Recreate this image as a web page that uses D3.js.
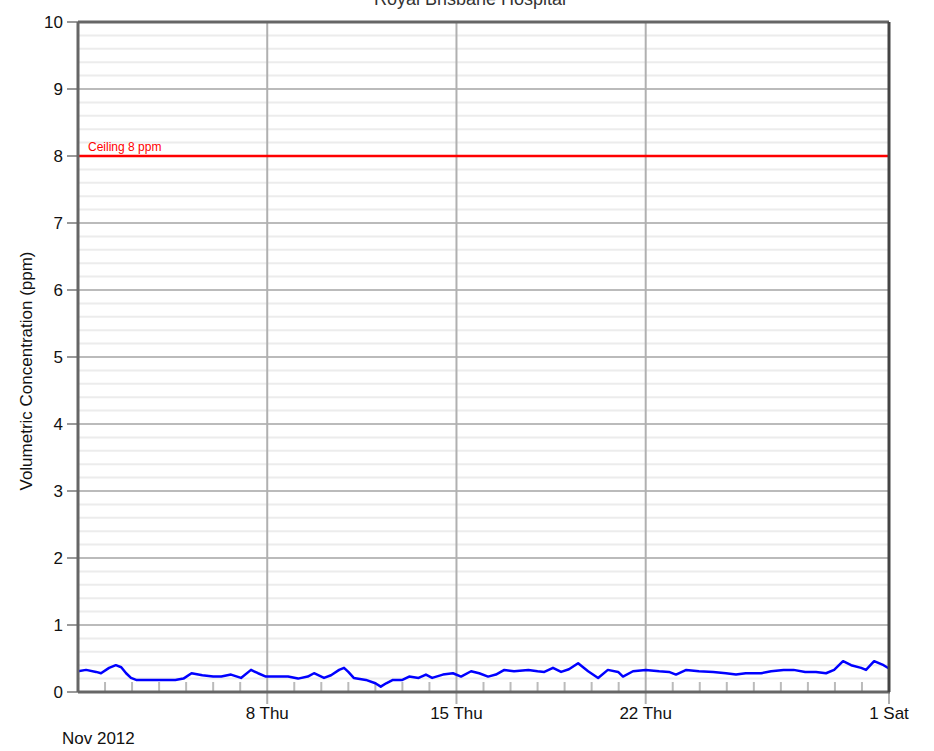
<!DOCTYPE html>
<html>
<head>
<meta charset="utf-8">
<script src="https://cdn.jsdelivr.net/npm/d3@7"></script>
<style>
    body { margin: 0; background: white; }
    text { font-family: "Liberation Sans", Arial, sans-serif; }
</style>
</head>
<body>
<script>
const title = "Royal Brisbane Hospital"
const yLabel = "Volumetric Concentration (ppm)"
const limitLabel = "Ceiling 8 ppm"
const limitValue = 8
const periodLabel = "Nov 2012"
const startDate = new Date(2012, 10, 1)
const endDate = new Date(2012, 11, 1)

// major x ticks (gridlines + labels)
const majorTickDates = ["2012-11-08", "2012-11-15", "2012-11-22", "2012-12-01"]
const majorTickLabels = ["8 Thu", "15 Thu", "22 Thu", "1 Sat"]
const yTicks = [0, 1, 2, 3, 4, 5, 6, 7, 8, 9, 10]

// sample time in days since 1 Nov, and measured ppm
const sampleDays = [0, 0.3, 0.67, 0.85, 1.15, 1.4, 1.6, 1.78, 1.96, 2.15, 2.6, 3.1, 3.6, 3.9, 4.2, 4.6,
    5.0, 5.3, 5.66, 6.03, 6.4, 6.66, 6.95, 7.4, 7.77, 8.14, 8.5, 8.73, 9.1, 9.36, 9.66, 9.84,
    10.0, 10.2, 10.65, 11.0, 11.2, 11.4, 11.65, 12.0, 12.25, 12.6, 12.87, 13.1, 13.5, 13.87, 14.17, 14.54, 14.84,
    15.17, 15.46, 15.77, 16.13, 16.66, 17.0, 17.25, 17.57, 17.87, 18.16, 18.5, 18.87, 19.24, 19.6, 19.98,
    20.16, 20.53, 21.0, 21.5, 21.86, 22.12, 22.5, 22.97, 23.5, 23.97, 24.34, 24.7,
    25.27, 25.64, 26.1, 26.47, 26.9, 27.3, 27.67, 27.97, 28.3, 28.6, 28.97, 29.15, 29.45, 29.8, 30.0]
const ppmValues = [0.31, 0.33, 0.30, 0.28, 0.36, 0.40, 0.37, 0.28, 0.21, 0.18, 0.18, 0.18, 0.18, 0.20, 0.28, 0.25,
    0.23, 0.23, 0.26, 0.21, 0.33, 0.28, 0.23, 0.23, 0.23, 0.20, 0.23, 0.28, 0.21, 0.25, 0.33, 0.36,
    0.30, 0.21, 0.18, 0.13, 0.08, 0.13, 0.18, 0.18, 0.23, 0.21, 0.26, 0.21, 0.26, 0.28, 0.23, 0.31, 0.28,
    0.23, 0.26, 0.33, 0.31, 0.33, 0.31, 0.30, 0.36, 0.30, 0.34, 0.43, 0.31, 0.21, 0.33, 0.30,
    0.23, 0.31, 0.33, 0.31, 0.30, 0.26, 0.33, 0.31, 0.30, 0.28, 0.26, 0.28,
    0.28, 0.31, 0.33, 0.33, 0.30, 0.30, 0.28, 0.33, 0.46, 0.40, 0.36, 0.33, 0.46, 0.40, 0.35]

const width = 934
const height = 751
const plot = { left: 78, right: 889, top: 22, bottom: 692 }

const parseDay = d3.timeParse("%Y-%m-%d")

const svg = d3.select("body")
    .append("svg")
    .attr("width", width)
    .attr("height", height)

const xScale = d3.scaleTime()
    .domain([startDate, endDate])
    .range([plot.left, plot.right])

const yScale = d3.scaleLinear()
    .domain([0, 10])
    .range([plot.bottom, plot.top])

const majorDates = majorTickDates.map(parseDay)

// minor horizontal gridlines every 0.2
const minorY = d3.range(0, 50).map(i => i * 0.2).filter(v => Math.abs(v - Math.round(v)) > 0.01)
svg.append("g").selectAll("line")
    .data(minorY).enter()
    .append("line")
    .attr("x1", plot.left).attr("x2", plot.right)
    .attr("y1", d => yScale(d)).attr("y2", d => yScale(d))
    .attr("stroke", "#ececec")
    .attr("stroke-width", 2)

// major horizontal gridlines
svg.append("g").selectAll("line")
    .data(yTicks.slice(1, -1)).enter()
    .append("line")
    .attr("x1", plot.left).attr("x2", plot.right)
    .attr("y1", d => yScale(d)).attr("y2", d => yScale(d))
    .attr("stroke", "#bbbbbb")
    .attr("stroke-width", 2)

// vertical gridlines on major dates, running below the axis as ticks
svg.append("g").selectAll("line")
    .data(majorDates).enter()
    .append("line")
    .attr("x1", d => xScale(d)).attr("x2", d => xScale(d))
    .attr("y1", plot.top).attr("y2", plot.bottom + 12)
    .attr("stroke", "#b0b0b0")
    .attr("stroke-width", 2)

// minor day ticks along the bottom
const days = d3.timeDay.range(d3.timeDay.offset(startDate, 1), endDate)
    .filter(d => !majorDates.some(m => +m === +d))
svg.append("g").selectAll("line")
    .data(days).enter()
    .append("line")
    .attr("x1", d => xScale(d)).attr("x2", d => xScale(d))
    .attr("y1", plot.bottom - 10).attr("y2", plot.bottom)
    .attr("stroke", "#bbbbbb")
    .attr("stroke-width", 2)

// y tick marks and labels
svg.append("g").selectAll("line")
    .data(yTicks).enter()
    .append("line")
    .attr("x1", plot.left - 11).attr("x2", plot.left)
    .attr("y1", d => yScale(d)).attr("y2", d => yScale(d))
    .attr("stroke", "#999")
    .attr("stroke-width", 2)

svg.append("g").selectAll("text")
    .data(yTicks).enter()
    .append("text")
    .attr("x", plot.left - 15)
    .attr("y", d => yScale(d))
    .attr("dy", "0.35em")
    .attr("text-anchor", "end")
    .style("font-size", "17px")
    .attr("fill", "#111")
    .text(d => d)

// x labels
svg.append("g").selectAll("text")
    .data(majorDates).enter()
    .append("text")
    .attr("x", d => xScale(d))
    .attr("y", plot.bottom + 27)
    .attr("text-anchor", "middle")
    .style("font-size", "17px")
    .attr("fill", "#111")
    .text((d, i) => majorTickLabels[i])

svg.append("text")
    .attr("x", 62)
    .attr("y", 744)
    .style("font-size", "17px")
    .attr("fill", "#111")
    .text(periodLabel)

// limit line
svg.append("line")
    .attr("x1", plot.left).attr("x2", plot.right)
    .attr("y1", yScale(limitValue)).attr("y2", yScale(limitValue))
    .attr("stroke", "#ff0000")
    .attr("stroke-width", 2.5)

svg.append("text")
    .attr("x", 88)
    .attr("y", yScale(limitValue) - 5)
    .style("font-size", "12px")
    .attr("fill", "#ff0000")
    .text(limitLabel)

// measured series
const series = sampleDays.map((d, i) => ({
    date: d3.timeMinute.offset(startDate, Math.round(d * 1440)),
    value: ppmValues[i]
}))

const line = d3.line()
    .x(d => xScale(d.date))
    .y(d => yScale(d.value))

svg.append("path")
    .datum(series)
    .attr("d", line)
    .attr("fill", "none")
    .attr("stroke", "#0000ff")
    .attr("stroke-width", 2.5)
    .attr("stroke-linejoin", "round")

// frame
svg.append("line")
    .attr("x1", plot.left).attr("x2", plot.right)
    .attr("y1", plot.top).attr("y2", plot.top)
    .attr("stroke", "#666").attr("stroke-width", 3)
svg.append("line")
    .attr("x1", plot.left).attr("x2", plot.right + 1)
    .attr("y1", plot.bottom).attr("y2", plot.bottom)
    .attr("stroke", "#666").attr("stroke-width", 3)
svg.append("line")
    .attr("x1", plot.left).attr("x2", plot.left)
    .attr("y1", plot.top).attr("y2", plot.bottom)
    .attr("stroke", "#666").attr("stroke-width", 3)
svg.append("line")
    .attr("x1", plot.right).attr("x2", plot.right)
    .attr("y1", plot.top).attr("y2", plot.bottom)
    .attr("stroke", "#444").attr("stroke-width", 3)

// title (mostly cut off at the top edge)
svg.append("text")
    .attr("x", 470)
    .attr("y", 5)
    .attr("text-anchor", "middle")
    .style("font-size", "18px")
    .attr("fill", "#333")
    .text(title)

svg.append("text")
    .attr("transform", `translate(32, 371) rotate(-90)`)
    .attr("text-anchor", "middle")
    .style("font-size", "17px")
    .attr("fill", "#111")
    .text(yLabel)
</script>
</body>
</html>
